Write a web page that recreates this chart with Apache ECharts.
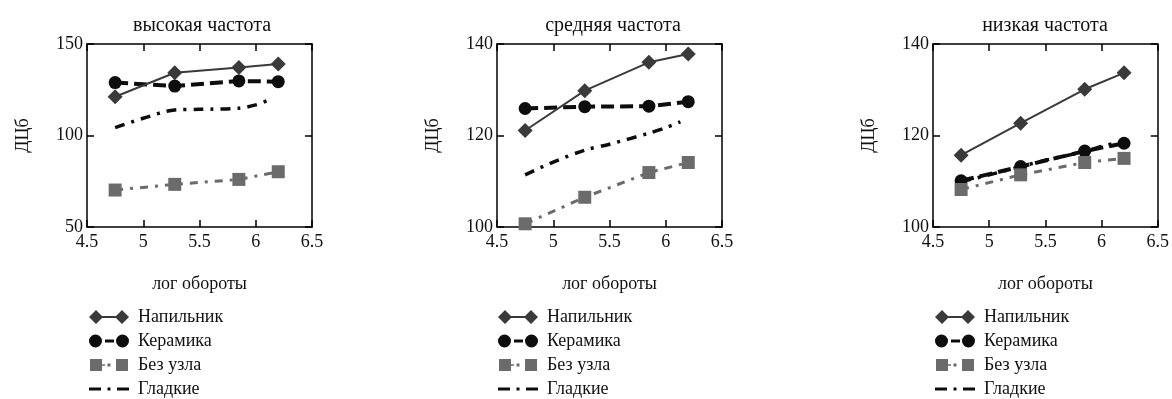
<!DOCTYPE html>
<html>
<head>
<meta charset="utf-8">
<script src="https://cdn.jsdelivr.net/npm/echarts@6/dist/echarts.min.js"></script>
<style>html,body{margin:0;padding:0;background:#fff}#c{width:1172px;height:399px}</style>
</head>
<body>
<div id="c"></div>
<script>
// ---- data ----
const panelTitles = ['высокая частота', 'средняя частота', 'низкая частота'];
const seriesNames = ['Напильник', 'Керамика', 'Без узла', 'Гладкие'];
const xAxisName = 'лог обороты';
const yAxisName = 'ДЦб';
const logRpm = [4.75, 5.28, 5.85, 6.2];
const smoothLogRpm = [4.75, 5.0, 5.28, 5.5, 5.85, 6.0, 6.13];

const highFile = [121.2, 134.3, 137.1, 139.1];
const highCeramic = [128.9, 127.0, 129.8, 129.4];
const highNoKnot = [70.2, 73.3, 76.0, 80.2];
const highSmooth = [104.3, 109.4, 114.0, 114.3, 114.9, 116.7, 119.8];

const midFile = [121.1, 129.8, 136.0, 137.8];
const midCeramic = [125.9, 126.3, 126.4, 127.4];
const midNoKnot = [100.7, 106.5, 111.9, 114.1];
const midSmooth = [111.4, 114.2, 116.8, 118.1, 120.5, 121.7, 123.0];

const lowFile = [115.7, 122.7, 130.1, 133.7];
const lowCeramic = [110.1, 113.2, 116.6, 118.3];
const lowNoKnot = [108.2, 111.4, 114.1, 115.0];
const lowSmooth = [109.9, 111.4, 113.2, 114.6, 116.5, 117.6, 118.4];

const xTicks = {min: 4.5, max: 6.5, interval: 0.5};
const yTicks = [
  {min: 50, max: 150, interval: 50},
  {min: 100, max: 140, interval: 20},
  {min: 100, max: 140, interval: 20}
];

const panelData = [
  [highFile, highCeramic, highNoKnot, highSmooth],
  [midFile, midCeramic, midNoKnot, midSmooth],
  [lowFile, lowCeramic, lowNoKnot, lowSmooth]
];

// ---- layout / style ----
const FONT = '"Liberation Serif", "DejaVu Serif", serif';
const FS = 18;
const gridLefts = [87, 497, 933];
const titleCenters = [197, 608, 1040];
const GRID_TOP = 44, GRID_W = 225, GRID_H = 183;
const legendLefts = [89, 498, 935];

const colors = ['#3a3a3a', '#0d0d0d', '#6b6b6b', '#0d0d0d'];
const legendIcons = [
  'path://M0 7L7 0L14 7L7 14ZM13 6L27 6L27 8L13 8ZM26 7L33 0L40 7L33 14Z',
  'path://M0 7A6.5 6.5 0 1 1 13 7A6.5 6.5 0 1 1 0 7ZM16 5.5L25 5.5L25 8.5L16 8.5ZM27 7A6.5 6.5 0 1 1 40 7A6.5 6.5 0 1 1 27 7Z',
  'path://M1 1L13 1L13 13L1 13ZM13 6.3L16 6.3L16 7.7L13 7.7ZM18.5 5.5L21.5 5.5L21.5 8.5L18.5 8.5ZM27 1L39 1L39 13L27 13ZM0 0L0 0.01L0.01 0ZM40 14L40 13.99L39.99 14Z',
  'path://M0 5.5L12 5.5L12 8.5L0 8.5ZM18.5 5.5L21.5 5.5L21.5 8.5L18.5 8.5ZM28 5.5L40 5.5L40 8.5L28 8.5ZM0 0L0 0.01L0.01 0ZM40 14L40 13.99L39.99 14Z'
];

function pairs(xs, ys) { return xs.map((x, i) => [x, ys[i]]); }

const axisLine = {show: true, lineStyle: {color: '#000', width: 1.5}};
const tickIn = {show: true, inside: true, length: 7, lineStyle: {color: '#000', width: 1.5}};
const labelStyle = {color: '#111', fontFamily: FONT, fontSize: FS};

const option = {
  animation: false,
  backgroundColor: '#fff',
  title: [], grid: [], xAxis: [], yAxis: [], series: [], legend: []
};

panelTitles.forEach((t, p) => {
  option.title.push({
    text: t, left: titleCenters[p], top: 11, textAlign: 'center',
    textStyle: {fontFamily: FONT, fontSize: 20, fontWeight: 'normal', color: '#111'}
  });
  option.grid.push({left: gridLefts[p], top: GRID_TOP, width: GRID_W, height: GRID_H, containLabel: false});
  // bottom x
  option.xAxis.push({
    type: 'value', gridIndex: p, position: 'bottom', min: xTicks.min, max: xTicks.max, interval: xTicks.interval,
    axisLine, axisTick: tickIn, splitLine: {show: false},
    axisLabel: Object.assign({margin: 6}, labelStyle),
    name: xAxisName, nameLocation: 'middle', nameGap: 48,
    nameTextStyle: {fontFamily: FONT, fontSize: FS, color: '#111'}
  });
  // top x
  option.xAxis.push({
    type: 'value', gridIndex: p, position: 'top', min: xTicks.min, max: xTicks.max, interval: xTicks.interval,
    axisLine, axisTick: tickIn, splitLine: {show: false}, axisLabel: {show: false}
  });
  // left y
  option.yAxis.push({
    type: 'value', gridIndex: p, position: 'left', min: yTicks[p].min, max: yTicks[p].max, interval: yTicks[p].interval,
    axisLine, axisTick: tickIn, splitLine: {show: false},
    axisLabel: Object.assign({margin: 4}, labelStyle),
    name: yAxisName, nameLocation: 'middle', nameGap: 55, nameRotate: 90,
    nameTextStyle: {fontFamily: FONT, fontSize: FS, color: '#111'}
  });
  // right y
  option.yAxis.push({
    type: 'value', gridIndex: p, position: 'right', min: yTicks[p].min, max: yTicks[p].max, interval: yTicks[p].interval,
    axisLine, axisTick: tickIn, splitLine: {show: false}, axisLabel: {show: false}
  });

  const d = panelData[p];
  const xi = p * 2, yi = p * 2;
  option.series.push({
    name: seriesNames[0], type: 'line', xAxisIndex: xi, yAxisIndex: yi,
    data: pairs(logRpm, d[0]), symbol: 'diamond', symbolSize: [15, 15],
    itemStyle: {color: colors[0]}, lineStyle: {color: colors[0], width: 2}, z: 4
  });
  option.series.push({
    name: seriesNames[1], type: 'line', xAxisIndex: xi, yAxisIndex: yi,
    data: pairs(logRpm, d[1]), symbol: 'circle', symbolSize: 13,
    itemStyle: {color: colors[1]}, lineStyle: {color: colors[1], width: 4, type: [13, 6]}, z: 3
  });
  option.series.push({
    name: seriesNames[2], type: 'line', xAxisIndex: xi, yAxisIndex: yi,
    data: pairs(logRpm, d[2]), symbol: 'rect', symbolSize: 13,
    itemStyle: {color: colors[2]}, lineStyle: {color: colors[2], width: 3, type: [8, 7, 3, 7]}, z: 3
  });
  option.series.push({
    name: seriesNames[3], type: 'line', xAxisIndex: xi, yAxisIndex: yi,
    data: pairs(smoothLogRpm, d[3]), symbol: 'none', smooth: 0.3,
    itemStyle: {color: colors[3]}, lineStyle: {color: colors[3], width: 3.5, type: [10, 7, 3, 7]}, z: 2
  });

  option.legend.push({
    orient: 'vertical', left: legendLefts[p], top: 307, itemWidth: 40, itemHeight: 14, itemGap: 4,
    selectedMode: false, padding: 0,
    textStyle: {fontFamily: FONT, fontSize: FS, color: '#111', lineHeight: 20, padding: [0, 0, 0, 4]},
    data: seriesNames.map((n, i) => ({name: n, icon: legendIcons[i], itemStyle: {color: colors[i]}}))
  });
});

const chart = echarts.init(document.getElementById('c'), null, {renderer: 'canvas'});
chart.setOption(option);
</script>
</body>
</html>
